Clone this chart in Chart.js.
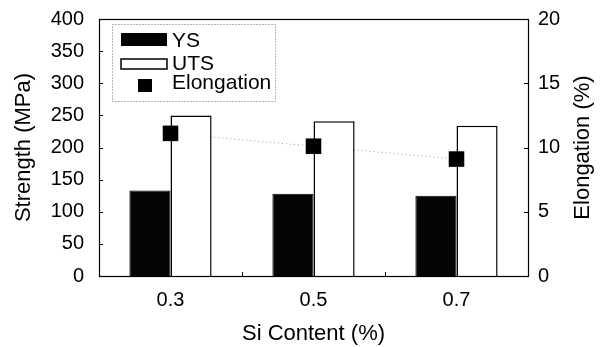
<!DOCTYPE html>
<html>
<head>
<meta charset="utf-8">
<script src="https://cdn.jsdelivr.net/npm/chart.js@4"></script>
<style>
html,body{margin:0;padding:0;background:#fff;}
#wrap{width:608px;height:347px;position:relative;}
</style>
</head>
<body>
<div id="wrap"><canvas id="c" width="608" height="347"></canvas></div>
<script>
const categories = ["0.3", "0.5", "0.7"];
const ysValues = [133, 128, 125];
const utsValues = [250, 241, 234];
const elongationValues = [11.1, 10.1, 9.1];
const strengthTicks = [0, 50, 100, 150, 200, 250, 300, 350, 400];
const elongationTicks = [0, 5, 10, 15, 20];

const FONT = "'Liberation Sans', Arial, sans-serif";

const decor = {
  id: 'decor',
  afterDatasetsDraw(chart) {
    const ctx = chart.ctx;
    const a = chart.chartArea;
    const x = chart.scales.x, y = chart.scales.y, y1 = chart.scales.y1;
    ctx.save();
    ctx.strokeStyle = '#000';
    ctx.lineWidth = 1;
    ctx.beginPath();
    y.ticks.forEach(t => {
      const py = Math.round(y.getPixelForValue(t.value)) + 0.5;
      ctx.moveTo(a.left, py); ctx.lineTo(a.left + 4, py);
    });
    y1.ticks.forEach(t => {
      const py = Math.round(y1.getPixelForValue(t.value)) + 0.5;
      ctx.moveTo(a.right, py); ctx.lineTo(a.right - 4, py);
    });
    for (let i = 1; i < categories.length; i++) {
      const px = Math.round((x.getPixelForValue(i - 1) + x.getPixelForValue(i)) / 2) + 0.5;
      ctx.moveTo(px, a.bottom); ctx.lineTo(px, a.bottom - 4);
    }
    ctx.stroke();
    ctx.lineWidth = 1.2;
    ctx.strokeRect(a.left + 0.5, a.top + 0.5, a.right - a.left, a.bottom - a.top);

    ctx.fillStyle = '#000';
    ctx.font = "22px " + FONT;
    ctx.translate(583, (a.top + a.bottom) / 2);
    ctx.rotate(-Math.PI / 2);
    ctx.textAlign = 'center';
    ctx.textBaseline = 'middle';
    ctx.fillText('Elongation (%)', 0, 0);
    ctx.restore();

    // legend
    ctx.save();
    ctx.strokeStyle = '#666';
    ctx.lineWidth = 1;
    ctx.setLineDash([1, 2]);
    ctx.strokeRect(112.5, 24.5, 163, 77);
    ctx.setLineDash([]);
    ctx.fillStyle = '#000';
    ctx.fillRect(121, 33, 46, 13);
    ctx.fillStyle = '#fff';
    ctx.fillRect(121, 59, 46, 10);
    ctx.strokeStyle = '#000';
    ctx.lineWidth = 1.5;
    ctx.strokeRect(121, 59, 46, 10);
    ctx.fillStyle = '#000';
    ctx.fillRect(138, 79, 14, 13);
    ctx.font = "21px " + FONT;
    ctx.textAlign = 'left';
    ctx.textBaseline = 'alphabetic';
    ctx.fillText('YS', 172, 47);
    ctx.fillText('UTS', 172, 70);
    ctx.fillText('Elongation', 172, 89);
    ctx.restore();
  }
};

new Chart(document.getElementById('c'), {
  data: {
    labels: categories,
    datasets: [
      {
        type: 'line',
        label: 'Elongation line',
        data: elongationValues,
        yAxisID: 'y1',
        borderColor: '#9a9a9a',
        borderWidth: 1,
        borderDash: [1, 3],
        pointRadius: 0,
        fill: false,
        order: 5
      },
      {
        type: 'bar',
        label: 'YS',
        data: ysValues,
        yAxisID: 'y',
        backgroundColor: '#050505',
        borderColor: '#000',
        borderWidth: 1,
        barPercentage: 1,
        categoryPercentage: 0.575,
        order: 2
      },
      {
        type: 'bar',
        label: 'UTS',
        data: utsValues,
        yAxisID: 'y',
        backgroundColor: '#fff',
        borderColor: '#000',
        borderWidth: 1.5,
        barPercentage: 1,
        categoryPercentage: 0.575,
        order: 2
      },
      {
        type: 'line',
        label: 'Elongation',
        data: elongationValues,
        yAxisID: 'y1',
        showLine: false,
        pointStyle: 'rect',
        pointRadius: 11,
        pointBackgroundColor: '#000',
        pointBorderColor: '#000',
        pointBorderWidth: 0,
        order: 0
      }
    ]
  },
  options: {
    responsive: false,
    animation: false,
    events: [],
    layout: { padding: { top: 19, left: 0, right: 0, bottom: 0 } },
    plugins: {
      legend: { display: false },
      tooltip: { enabled: false }
    },
    scales: {
      x: {
        type: 'category',
        offset: true,
        grid: { display: false, drawTicks: false },
        border: { display: false },
        ticks: { color: '#000', font: { family: FONT, size: 20 }, padding: 12 },
        title: { display: true, text: 'Si Content (%)', color: '#000', font: { family: FONT, size: 22 }, padding: { top: 8, bottom: 0 } },
        afterFit(s) { s.height = 71; s.paddingLeft = 0; s.paddingRight = 0; }
      },
      y: {
        position: 'left',
        min: 0, max: 400,
        afterBuildTicks(s) { s.ticks = strengthTicks.map(v => ({ value: v })); },
        grid: { display: false, drawTicks: false },
        border: { display: false },
        ticks: { color: '#000', font: { family: FONT, size: 20 }, padding: 15 },
        title: { display: true, text: 'Strength (MPa)', color: '#000', font: { family: FONT, size: 22 }, padding: { top: 11, bottom: 0 } },
        afterFit(s) { s.width = 99; s.paddingTop = 0; s.paddingBottom = 0; }
      },
      y1: {
        position: 'right',
        min: 0, max: 20,
        afterBuildTicks(s) { s.ticks = elongationTicks.map(v => ({ value: v })); },
        grid: { display: false, drawTicks: false },
        border: { display: false },
        ticks: { color: '#000', font: { family: FONT, size: 20 }, padding: 10 },
        afterFit(s) { s.width = 80; s.paddingTop = 0; s.paddingBottom = 0; }
      }
    }
  },
  plugins: [decor]
});
</script>
</body>
</html>
